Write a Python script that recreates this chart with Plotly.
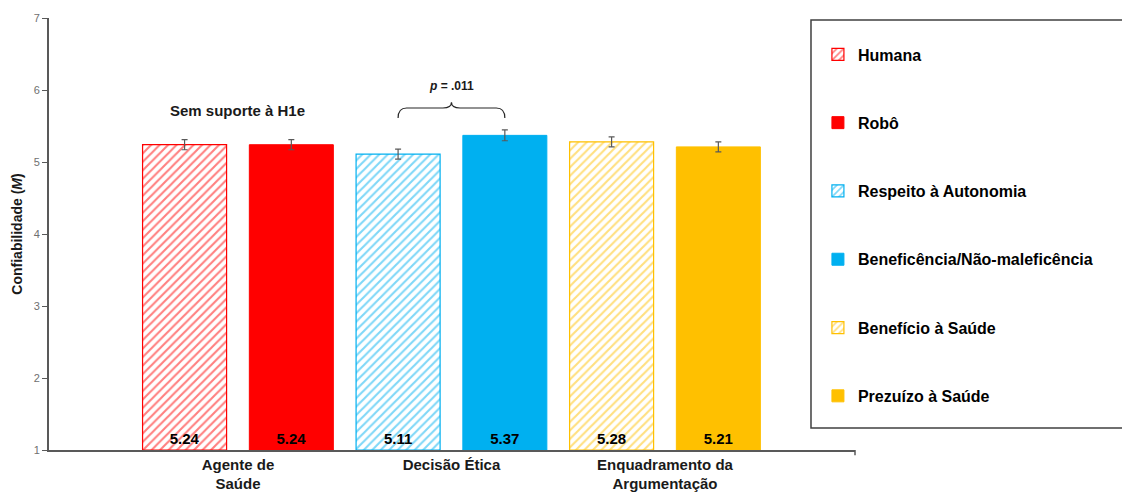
import plotly.graph_objects as go

# Conditions and their mean confidence scores
conditions = ["Humana", "Robô", "Respeito à Autonomia", "Beneficência/Não-maleficência",
              "Benefício à Saúde", "Prezuízo à Saúde"]
means = [5.24, 5.24, 5.11, 5.37, 5.28, 5.21]
errors = [0.07, 0.07, 0.07, 0.075, 0.07, 0.07]
colors = ["#FF0000", "#FF0000", "#00B0F0", "#00B0F0", "#FFC000", "#FFC000"]
hatched = [True, False, True, False, True, False]

group_labels = ["Agente de<br>Saúde", "Decisão Ética", "Enquadramento da<br>Argumentação"]
y_ticks = [1, 2, 3, 4, 5, 6, 7]

positions = list(range(len(conditions)))
group_centers = [0.5, 2.5, 4.5]

font_family = "Liberation Sans, Arial, sans-serif"

fig = go.Figure()
for i, (name, m, e, c, h) in enumerate(zip(conditions, means, errors, colors, hatched)):
    marker = dict(color=c, line=dict(color=c, width=1))
    if h:
        marker = dict(
            color="white",
            line=dict(color=c, width=1.2),
            pattern=dict(shape="/", fgcolor=c, bgcolor="white", size=6, solidity=0.35),
        )
    fig.add_trace(go.Bar(
        x=[positions[i]], y=[m - 1], base=1, name=name,
        width=0.787, marker=marker,
        error_y=dict(type="data", array=[e], color="#595959", thickness=1.2, width=3),
        text=[f"{m:.2f}"], textposition="inside", insidetextanchor="start",
        textfont=dict(family=font_family, size=15, color="black", weight="bold"),
        legendgroup=name,
        hoverinfo="skip",
    ))

# Significance bracket between the two ethical-decision bars
x0, x1 = positions[2], positions[3]
xm = (x0 + x1) / 2
bracket = (f"M {x0},5.61 Q {x0},5.75 {x0+0.08},5.75 L {xm-0.08},5.75 "
           f"Q {xm},5.75 {xm},5.83 Q {xm},5.75 {xm+0.08},5.75 "
           f"L {x1-0.08},5.75 Q {x1},5.75 {x1},5.61")
fig.add_shape(type="path", path=bracket, xref="x", yref="y",
              line=dict(color="#262626", width=1.2))
fig.add_annotation(x=xm, y=6.06, xref="x", yref="y", showarrow=False,
                   text="<i>p</i> = .011",
                   font=dict(family=font_family, size=12, color="#1a1a1a", weight="bold"))
fig.add_annotation(x=group_centers[0], y=5.72, xref="x", yref="y", showarrow=False,
                   text="Sem suporte à H1e",
                   font=dict(family=font_family, size=15, color="#1a1a1a", weight="bold"))

# Frame around the legend
fig.add_shape(type="rect", xref="paper", yref="paper",
              x0=0.9454, x1=1.34, y0=0.0509, y1=0.9954,
              line=dict(color="#404040", width=1.5), fillcolor="rgba(0,0,0,0)")

# Small closing tick at the right end of the category axis
fig.add_shape(type="line", xref="paper", yref="paper",
              x0=1, x1=1, y0=0, y1=-0.012,
              line=dict(color="#595959", width=1.5))

fig.update_layout(
    width=1122, height=495,
    margin=dict(l=49, r=267, t=18, b=45),
    paper_bgcolor="white", plot_bgcolor="white",
    barmode="overlay",
    showlegend=True,
    legend=dict(
        x=0.954, xanchor="left", y=0.955, yanchor="top",
        font=dict(family=font_family, size=16, color="black", weight="bold"),
        tracegroupgap=44.5, traceorder="grouped",
        bgcolor="rgba(0,0,0,0)", borderwidth=0,
        itemwidth=30,
    ),
    xaxis=dict(
        range=[-1.27, 6.28], tickvals=group_centers, ticktext=group_labels,
        showgrid=False, zeroline=False, automargin=False,
        showline=True, linecolor="#595959", linewidth=1.5,
        ticks="", tickfont=dict(family=font_family, size=15, color="#1a1a1a", weight="bold"),
    ),
    yaxis=dict(
        range=[1, 7], tickvals=y_ticks, showgrid=False, zeroline=False,
        showline=True, linecolor="#595959", linewidth=2,
        ticks="outside", ticklen=5, tickcolor="#595959",
        tickfont=dict(family=font_family, size=11, color="#6f6f6f"),
        title=dict(text="Confiabilidade (<i>M</i>)", standoff=8,
                   font=dict(family=font_family, size=14, color="#1a1a1a", weight="bold")),
    ),
)

fig.write_html("out.html")
